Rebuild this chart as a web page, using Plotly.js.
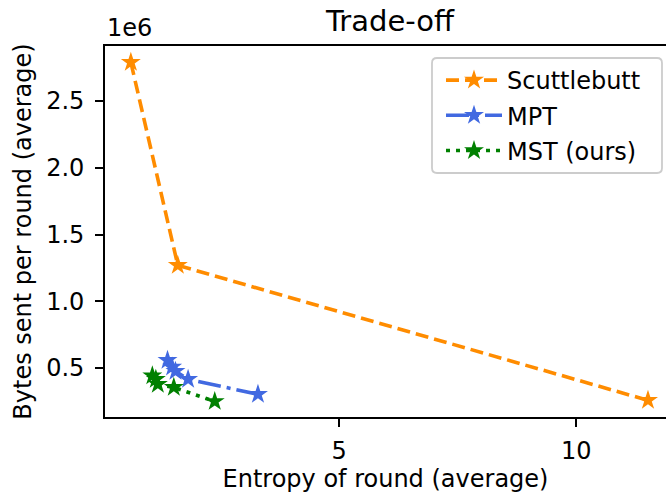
<!DOCTYPE html>
<html>
<head>
<meta charset="utf-8">
<script src="https://cdn.plot.ly/plotly-3.0.1.min.js"></script>
<style>html,body{margin:0;padding:0;background:#fff;}#chart{width:667px;height:498px;}</style>
</head>
<body>
<div id="chart"></div>
<script>
// Data
const scuttleX = [0.606, 1.596, 11.51];
const scuttleY = [2.79e6, 1.269e6, 0.258e6];
const mptX = [1.379, 1.476, 1.547, 1.813, 3.286];
const mptY = [0.558e6, 0.507e6, 0.475e6, 0.415e6, 0.303e6];
const mstX = [1.059, 1.133, 1.175, 1.512, 2.375];
const mstY = [0.442e6, 0.415e6, 0.378e6, 0.355e6, 0.250e6];
const yTickVals = [0.5e6, 1.0e6, 1.5e6, 2.0e6, 2.5e6];
const yTickText = ['0.5', '1.0', '1.5', '2.0', '2.5'];
const xTickVals = [5, 10];
const xTickText = ['5', '10'];

const FONT = 'DejaVu Sans, sans-serif';
const L = 105, R = 666, T = 46, B = 417;
const px = v => (v - L) / (R - L);
const py = v => (B - v) / (B - T);

function roundRect(x0, y0, x1, y1, r) {
  const rx = r / (R - L), ry = r / (B - T);
  const a = px(x0), b = px(x1), c = py(y0), d = py(y1);
  return `M${a + rx},${c} L${b - rx},${c} Q${b},${c} ${b},${c - ry} L${b},${d + ry} Q${b},${d} ${b - rx},${d} L${a + rx},${d} Q${a},${d} ${a},${d + ry} L${a},${c - ry} Q${a},${c} ${a + rx},${c} Z`;
}

const traces = [
  {x: scuttleX, y: scuttleY, name: 'Scuttlebutt', mode: 'lines+markers', legendgroup: 'a',
   line: {color: '#ff8c00', width: 3.6, dash: '13px,6px'},
   marker: {symbol: 'star', size: 15, color: '#ff8c00', line: {width: 0}}},
  {x: mptX, y: mptY, name: 'MPT', mode: 'lines+markers', legendgroup: 'b',
   line: {color: '#4169e1', width: 3.6, dash: '23px,6px,4px,6px'},
   marker: {symbol: 'star', size: 15, color: '#4169e1', line: {width: 0}}},
  {x: mstX, y: mstY, name: 'MST (ours)', mode: 'lines+markers', legendgroup: 'c',
   line: {color: '#008000', width: 3.6, dash: '4px,6px'},
   marker: {symbol: 'star', size: 15, color: '#008000', line: {width: 0}}}
];

const layout = {
  width: 667, height: 498,
  margin: {l: L, r: 667 - R, t: T, b: 498 - B, pad: 0},
  paper_bgcolor: '#fff', plot_bgcolor: '#fff',
  font: {family: FONT, size: 24, color: '#000'},
  title: {text: 'Trade-off', font: {family: FONT, size: 29, color: '#000'},
          x: 0.508, xref: 'paper', xanchor: 'center', y: 1 - 21 / 498, yref: 'container', yanchor: 'middle'},
  showlegend: true,
  legend: {x: px(441), xanchor: 'left', y: py(58), yanchor: 'top',
           bgcolor: 'rgba(0,0,0,0)', borderwidth: 0, tracegroupgap: 1, itemwidth: 56,
           font: {family: FONT, size: 24, color: '#000'}},
  xaxis: {range: [0.061, 11.89], showgrid: false, zeroline: false,
          showline: true, linecolor: '#000', linewidth: 1.8, mirror: true,
          ticks: 'outside', ticklen: 8, tickwidth: 1.8, tickcolor: '#000',
          tickvals: xTickVals, ticktext: xTickText, ticklabelstandoff: 3,
          title: {text: 'Entropy of round (average)', font: {family: FONT, size: 24, color: '#000'}, standoff: 3}},
  yaxis: {range: [0.133e6, 2.912e6], showgrid: false, zeroline: false,
          showline: true, linecolor: '#000', linewidth: 1.8, mirror: false,
          ticks: 'outside', ticklen: 8, tickwidth: 1.8, tickcolor: '#000',
          tickvals: yTickVals, ticktext: yTickText, ticklabelstandoff: 6,
          title: {text: 'Bytes sent per round (average)', font: {family: FONT, size: 24, color: '#000'}, standoff: 8}},
  shapes: [
    {type: 'path', xref: 'paper', yref: 'paper', path: roundRect(432, 58, 662, 173, 5),
     line: {color: '#cccccc', width: 1.8}, fillcolor: 'rgba(255,255,255,0.8)', layer: 'above'}
  ],
  annotations: [
    {text: '1e6', xref: 'paper', yref: 'paper', x: 0, y: 1, xanchor: 'left', yanchor: 'bottom',
     xshift: 0, yshift: 2, showarrow: false, font: {family: FONT, size: 24, color: '#000'}}
  ]
};

Plotly.newPlot('chart', traces, layout, {displayModeBar: false, responsive: false});
</script>
</body>
</html>
